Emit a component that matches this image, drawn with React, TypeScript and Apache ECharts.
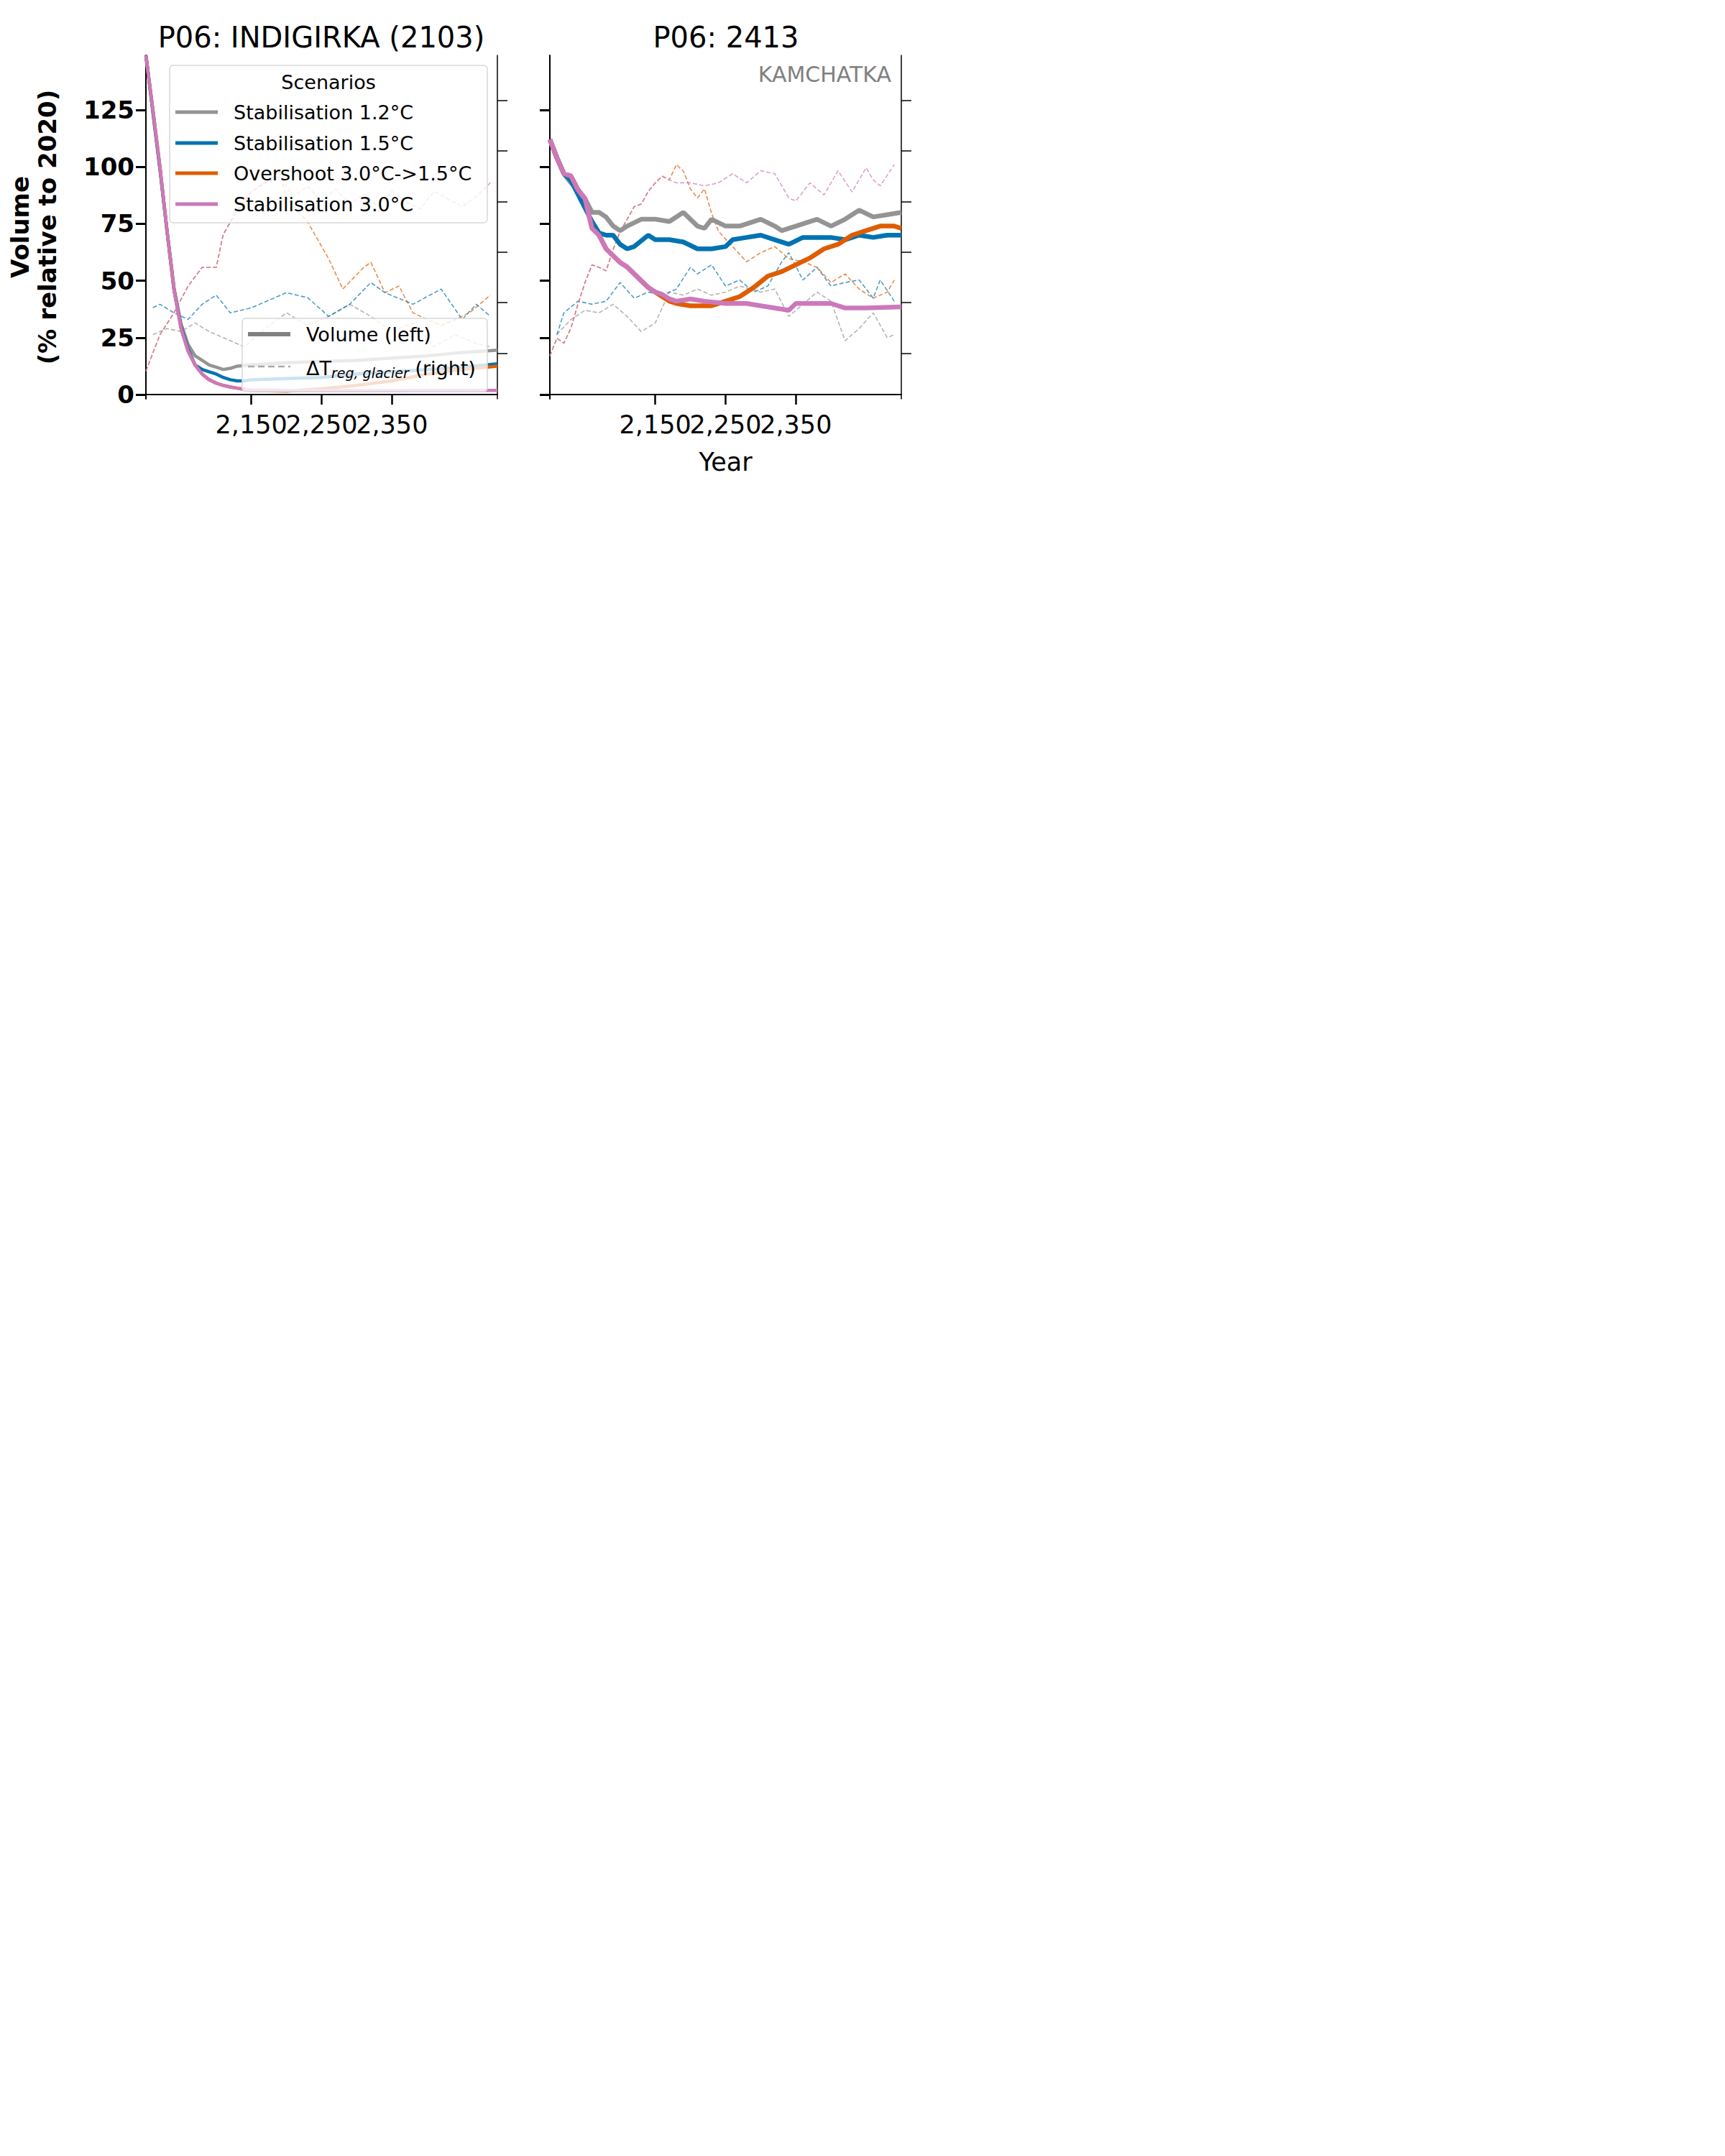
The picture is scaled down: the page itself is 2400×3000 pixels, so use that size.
import React, { useEffect, useRef } from 'react';
import * as echarts from 'echarts';

const scenarios = ['Stabilisation 1.2°C', 'Stabilisation 1.5°C', 'Overshoot 3.0°C->1.5°C', 'Stabilisation 3.0°C'];
const colors = ['#949494', '#0173b2', '#de5d00', '#cc78bc'];
const xTicks = [2050, 2150, 2250, 2350, 2450];
const yTicks = [0, 25, 50, 75, 100, 125];
const rightTicks = [1, 2, 3, 4, 5, 6];

// Panel 1: INDIGIRKA, volume (% of 2020)
const volA_12 = [[2000,149],[2010,124],[2020,99],[2030,72],[2040,47],[2050,31],[2060,22],[2070,17],[2080,15],[2090,13],[2100,12],[2110,11],[2120,11.5],[2130,12.5],[2150,13],[2200,14],[2250,14.5],[2300,15],[2350,16],[2400,17],[2450,18.5],[2500,19.5]];
const volA_15 = [[2000,149],[2010,124],[2020,99],[2030,72],[2040,46],[2050,30],[2060,20],[2070,13],[2080,11],[2090,10],[2100,9],[2110,7.5],[2120,6.5],[2130,6],[2140,6],[2150,6.5],[2200,7],[2250,7.5],[2300,9],[2350,10],[2400,11],[2450,12],[2500,13.5]];
const volA_os = [[2000,149],[2010,125],[2020,100],[2030,72],[2040,46],[2050,29],[2060,19],[2070,13],[2080,9],[2090,6.5],[2100,5],[2110,4],[2120,3.3],[2130,2.8],[2140,2.3],[2150,1.8],[2200,1.5],[2250,2.5],[2300,4],[2350,6],[2400,9],[2450,11],[2500,12.5]];
const volA_30 = [[2000,149],[2010,125],[2020,100],[2030,72],[2040,46],[2050,29],[2060,19],[2070,13],[2080,9],[2090,6.5],[2100,5],[2110,4],[2120,3.3],[2130,2.8],[2140,2.3],[2150,2],[2200,1.8],[2250,1.7],[2300,1.7],[2350,1.7],[2400,1.8],[2450,1.8],[2500,1.8]];

// Panel 1: regional glacier temperature change (right axis)
const tmpA_12 = [[2010,1.37],[2030,1.49],[2050,1.43],[2070,1.6],[2090,1.43],[2110,1.31],[2140,1.13],[2170,1.49],[2200,1.8],[2230,1.55],[2260,1.73],[2290,1.97],[2320,1.73],[2350,1.43],[2380,1.6],[2410,1.13],[2440,1.37],[2470,1.19],[2490,1.13]];
const tmpA_15 = [[2010,1.9],[2020,1.97],[2040,1.8],[2060,1.67],[2080,1.97],[2100,2.15],[2120,1.8],[2150,1.9],[2200,2.2],[2230,2.1],[2260,1.73],[2290,1.97],[2320,2.4],[2340,2.2],[2380,1.97],[2420,2.27],[2450,1.67],[2470,1.97],[2490,1.73]];
const tmpA_os = [[2000,0.65],[2020,1.37],[2040,1.8],[2060,2.33],[2080,2.7],[2100,2.7],[2110,3.35],[2130,3.83],[2150,4.2],[2170,4.37],[2190,4.6],[2200,4.07],[2230,3.6],[2260,2.87],[2280,2.27],[2310,2.7],[2320,2.8],[2340,2.2],[2360,2.33],[2380,1.8],[2400,1.67],[2420,1.55],[2440,1.67],[2460,1.8],[2480,2.03],[2490,2.15]];
const tmpA_30 = [[2000,0.65],[2020,1.37],[2040,1.8],[2060,2.33],[2080,2.7],[2100,2.7],[2110,3.35],[2130,3.83],[2150,4.2],[2170,4.37],[2190,4.5],[2210,4.1],[2230,4.3],[2250,4.0],[2270,4.25],[2290,3.95],[2310,4.15],[2330,3.9],[2350,4.2],[2370,4.0],[2390,3.85],[2410,4.2],[2430,4.05],[2450,3.9],[2470,4.1],[2490,4.37]];

// Panel 2: 2413 (KAMCHATKA), volume
const volB_12 = [[2000,112],[2010,104],[2020,97],[2030,93],[2040,90],[2050,86],[2060,80],[2070,80],[2080,78],[2090,74],[2100,72],[2110,74],[2130,77],[2150,77],[2170,76],[2190,80],[2210,74],[2220,73],[2230,77],[2250,74],[2270,74],[2300,77],[2320,74],[2330,72],[2350,74],[2380,77],[2400,74],[2420,77],[2440,81],[2460,78],[2480,79],[2500,80]];
const volB_15 = [[2000,112],[2010,104],[2020,97],[2030,94],[2040,88],[2050,82],[2060,76],[2070,71],[2080,70],[2090,70],[2100,66],[2110,64],[2120,65],[2140,70],[2150,68],[2170,68],[2190,67],[2210,64],[2230,64],[2250,65],[2260,68],[2280,69],[2300,70],[2320,68],[2340,66],[2360,69],[2380,69],[2400,69],[2420,68],[2440,70],[2460,69],[2480,70],[2500,70]];
const volB_os = [[2000,112],[2010,104],[2020,97],[2030,96],[2040,90],[2050,86],[2060,73],[2070,70],[2080,64],[2090,61],[2100,58],[2110,56],[2120,53],[2130,50],[2140,47],[2150,45],[2160,43],[2170,41],[2180,40],[2200,39],[2230,39],[2250,41],[2270,43],[2290,47],[2310,52],[2330,54],[2350,57],[2370,60],[2390,64],[2410,66],[2430,70],[2450,72],[2470,74],[2490,74],[2500,73]];
const volB_30 = [[2000,112],[2010,104],[2020,97],[2030,96],[2040,90],[2050,86],[2060,73],[2070,70],[2080,64],[2090,61],[2100,58],[2110,56],[2120,53],[2130,50],[2140,47],[2150,45],[2160,44],[2170,42],[2180,41],[2200,42],[2220,41],[2250,40],[2280,40],[2300,39],[2340,37],[2350,40],[2400,40],[2420,38],[2450,38],[2500,38.5]];

// Panel 2: temperature change (right axis)
const tmpB_12 = [[2010,1.37],[2030,1.67],[2050,1.85],[2070,1.8],[2090,1.97],[2110,1.73],[2130,1.43],[2150,1.6],[2170,2.21],[2190,2.15],[2210,2.27],[2230,2.15],[2250,2.21],[2270,2.33],[2300,2.21],[2320,2.27],[2340,1.73],[2360,1.97],[2380,2.21],[2400,2.03],[2420,1.25],[2440,1.49],[2460,1.8],[2480,1.31],[2490,1.37]];
const tmpB_15 = [[2010,1.37],[2020,1.8],[2040,2.03],[2060,1.97],[2080,2.03],[2100,2.4],[2120,2.09],[2140,2.21],[2160,2.15],[2180,2.27],[2200,2.7],[2210,2.57],[2230,2.75],[2250,2.33],[2270,2.45],[2290,2.21],[2310,2.33],[2330,2.81],[2340,2.99],[2360,2.45],[2380,2.7],[2400,2.33],[2420,2.4],[2440,2.45],[2460,2.09],[2470,2.45],[2490,2.03]];
const tmpB_os = [[2000,0.95],[2010,1.3],[2020,1.2],[2030,1.5],[2040,1.97],[2050,2.4],[2060,2.75],[2070,2.7],[2080,2.63],[2090,3.05],[2100,3.41],[2110,3.65],[2120,3.9],[2130,3.95],[2140,4.2],[2150,4.37],[2160,4.5],[2170,4.43],[2180,4.73],[2190,4.6],[2200,4.25],[2210,4.07],[2220,4.25],[2230,3.77],[2240,3.41],[2260,3.11],[2280,2.81],[2300,2.99],[2320,3.11],[2340,2.87],[2360,2.81],[2380,2.7],[2400,2.4],[2420,2.57],[2440,2.27],[2460,2.09],[2480,2.21],[2490,2.45]];
const tmpB_30 = [[2000,0.95],[2010,1.3],[2020,1.2],[2030,1.5],[2040,1.97],[2050,2.4],[2060,2.75],[2070,2.7],[2080,2.63],[2090,3.05],[2100,3.41],[2110,3.65],[2120,3.9],[2130,3.95],[2140,4.2],[2150,4.37],[2160,4.5],[2170,4.43],[2180,4.37],[2200,4.37],[2220,4.31],[2240,4.37],[2260,4.55],[2280,4.37],[2300,4.61],[2320,4.55],[2340,4.07],[2350,4.01],[2370,4.37],[2390,4.13],[2410,4.61],[2430,4.19],[2450,4.67],[2460,4.43],[2470,4.31],[2490,4.73]];

const volA = [volA_12, volA_15, volA_os, volA_30];
const tmpA = [tmpA_12, tmpA_15, tmpA_os, tmpA_30];
const volB = [volB_12, volB_15, volB_os, volB_30];
const tmpB = [tmpB_12, tmpB_15, tmpB_os, tmpB_30];

const FONT = 'DejaVu Sans';

const App: React.FC = () => {
  const chartRef = useRef<HTMLDivElement>(null);

  useEffect(() => {
    if (!chartRef.current) return;
    const chart = echarts.init(chartRef.current, undefined, { renderer: 'svg' });

    const grids = [
      { left: 203, top: 77, width: 489, height: 478 },
      { left: 765, top: 77, width: 489, height: 478 },
    ];

    const xAxis = [0, 1].map(i => ({
      type: 'value', gridIndex: i, min: 2000, max: 2500,
      splitLine: { show: false },
      axisLine: { lineStyle: { color: '#000', width: 2 } },
      axisTick: { customValues: xTicks, length: 14, lineStyle: { width: 2.5, color: '#000' } },
      axisLabel: { customValues: xTicks, fontSize: 35, color: '#000', fontFamily: FONT, margin: 18 },
      name: i === 1 ? 'Year' : '', nameLocation: 'middle', nameGap: 70,
      nameTextStyle: { fontSize: 35, color: '#000', fontFamily: FONT },
    }));

    const leftAxis = (i: number) => ({
      type: 'value', gridIndex: i, min: -1.9, max: 149, position: 'left',
      splitLine: { show: false },
      axisLine: { show: true, lineStyle: { color: '#000', width: 2 } },
      axisTick: { customValues: yTicks, length: 14, lineStyle: { width: 3, color: '#000' } },
      axisLabel: { show: i === 0, customValues: yTicks, fontSize: 34, fontWeight: 'bold', color: '#000', fontFamily: FONT, margin: 16 },
      name: i === 0 ? 'Volume\n(% relative to 2020)' : '', nameLocation: 'middle', nameGap: 118, nameRotate: 90,
      nameTextStyle: { fontSize: 34, fontWeight: 'bold', color: '#000', fontFamily: FONT, lineHeight: 38 },
    });
    const rightAxis = (i: number) => ({
      type: 'value', gridIndex: i, min: 0.1, max: 6.89, position: 'right',
      splitLine: { show: false },
      axisLine: { show: true, lineStyle: { color: '#000', width: 1.5 } },
      axisTick: { customValues: rightTicks, length: 14, lineStyle: { width: 1.5, color: '#000' } },
      axisLabel: { show: false },
    });

    const series: any[] = [];
    const addPanel = (p: number, vols: number[][][], tmps: number[][][], w: number) => {
      tmps.forEach((d, k) => series.push({
        type: 'line', xAxisIndex: p, yAxisIndex: p * 2 + 1, data: d, symbol: 'none', z: 2,
        lineStyle: { color: colors[k], width: 1.6, type: [6, 3], opacity: 0.7 },
      }));
      vols.forEach((d, k) => series.push({
        type: 'line', xAxisIndex: p, yAxisIndex: p * 2, data: d, symbol: 'none', z: 3,
        lineStyle: { color: colors[k], width: w },
      }));
    };
    addPanel(0, volA, tmpA, 4.5);
    addPanel(1, volB, tmpB, 6.5);

    const legendText = { fontSize: 27, fill: '#000', fontFamily: FONT };
    const graphic: any[] = [
      { type: 'text', z: 100, x: 447, y: 52, style: { text: 'P06: INDIGIRKA (2103)', fontSize: 40, fill: '#000', fontFamily: FONT, align: 'center', verticalAlign: 'middle' } },
      { type: 'text', z: 100, x: 1010, y: 52, style: { text: 'P06: 2413', fontSize: 40, fill: '#000', fontFamily: FONT, align: 'center', verticalAlign: 'middle' } },
      { type: 'text', z: 100, x: 1240, y: 103, style: { text: 'KAMCHATKA', fontSize: 30, fill: '#808080', fontFamily: FONT, align: 'right', verticalAlign: 'middle' } },
      { type: 'rect', z: 100, shape: { x: 236, y: 91, width: 442, height: 219, r: 5 }, style: { fill: 'rgba(255,255,255,0.8)', stroke: '#d8d8d8', lineWidth: 1.5 } },
      { type: 'text', z: 101, x: 457, y: 114, style: { text: 'Scenarios', ...legendText, align: 'center', verticalAlign: 'middle' } },
      { type: 'rect', z: 100, shape: { x: 337, y: 443, width: 341, height: 102, r: 5 }, style: { fill: 'rgba(255,255,255,0.8)', stroke: '#d8d8d8', lineWidth: 1.5 } },
      { type: 'line', z: 101, shape: { x1: 345, y1: 465, x2: 404, y2: 465 }, style: { stroke: '#808080', lineWidth: 6 } },
      { type: 'text', z: 101, x: 426, y: 465, style: { text: 'Volume (left)', ...legendText, verticalAlign: 'middle' } },
      { type: 'line', z: 101, shape: { x1: 345, y1: 510, x2: 404, y2: 510 }, style: { stroke: '#aaaaaa', lineWidth: 2.5, lineDash: [9, 5] } },
      {
        type: 'text', z: 101, x: 426, y: 512,
        style: {
          text: '{a|ΔT}{b|reg, glacier}{a| (right)}', verticalAlign: 'middle', fontFamily: FONT,
          rich: { a: { fontSize: 27, fill: '#000', fontFamily: FONT }, b: { fontSize: 19, fontStyle: 'italic', fill: '#000', fontFamily: FONT, padding: [14, 0, 0, 0] } },
        },
      },
    ];
    const rows = [156, 199, 241, 284];
    scenarios.forEach((s, k) => {
      graphic.push({ type: 'line', z: 101, shape: { x1: 244, y1: rows[k], x2: 303, y2: rows[k] }, style: { stroke: colors[k], lineWidth: 5 } });
      graphic.push({ type: 'text', z: 101, x: 325, y: rows[k], style: { text: s, ...legendText, verticalAlign: 'middle' } });
    });

    chart.setOption({
      animation: false,
      grid: grids,
      xAxis,
      yAxis: [leftAxis(0), rightAxis(0), leftAxis(1), rightAxis(1)],
      series,
      graphic,
    });

    return () => chart.dispose();
  }, []);

  return <div ref={chartRef} style={{ position: 'absolute', left: 0, top: 0, width: 1400, height: 700 }} />;
};

export default App;
